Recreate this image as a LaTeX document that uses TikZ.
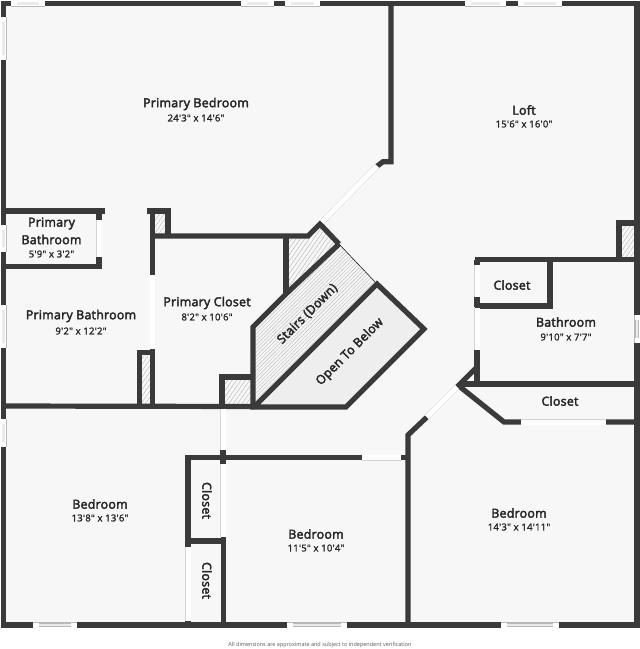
\documentclass[tikz,border=0pt]{standalone}
\usepackage{fontspec}
\usepackage{tikz}
\usetikzlibrary{patterns.meta}
\newfontfamily\roomfont[FakeBold=3, LetterSpace=2]{Open Sans}
\newfontfamily\dimsfont[FakeBold=1.5, LetterSpace=2]{Open Sans}
\newfontfamily\notefont{Open Sans}
\definecolor{wallgray}{HTML}{3A3A3A}
\definecolor{floorgray}{HTML}{F7F7F7}
\definecolor{openfill}{HTML}{EEEEEE}
\definecolor{edgegray}{HTML}{B8B8B8}
\definecolor{hatchgray}{HTML}{BDBDBD}
\tikzset{
  wall/.style={draw=wallgray, line width=5.2pt, line join=miter},
  door/.style={draw=edgegray!60!white, line width=.4pt, double=white, double distance=5pt},
  window/.style={draw=edgegray, line width=.5pt, double=white, double distance=5pt},
  pane/.style={draw=edgegray, line width=.5pt, double=edgegray!30!white, double distance=2.4pt},
  chase/.style={pattern={Lines[angle=55, distance=3.6pt, line width=.5pt]}, pattern color=hatchgray},
  flight/.style={pattern={Lines[angle=45, distance=2.6pt, line width=.45pt]}, pattern color=hatchgray},
  room/.style={font=\roomfont\fontsize{12.4}{14}\selectfont, text=black!85, inner sep=0pt},
  dims/.style={font=\dimsfont\fontsize{9.6}{11}\selectfont, text=black!85, inner sep=0pt},
  note/.style={font=\notefont\fontsize{5.5}{6}\selectfont, text=black!65, inner sep=0pt}
}
\begin{document}
\begin{tikzpicture}[x=1pt, y=-1pt]
\useasboundingbox (0,0) rectangle (640,649);
% Floor
\fill[floorgray] (3.5,3.5) rectangle (637,625);
% Open To Below
\fill[openfill] (377,284) -- (424,329) -- (346,407) -- (256,407) -- cycle;
% Stairs
\path[flight] (253,327) -- (339,244) -- (377,284) -- (256,405) -- (253,407) -- cycle;
\draw[black, line width=.5pt] (339,244) -- (377,284);
% Chases
\path[chase] (286,236) -- (308,236) -- (320,224) -- (339,244) -- (286,293) -- cycle;
\path[chase] (155,214) rectangle (165,233);
\path[chase] (142,356) rectangle (150,404);
\path[chase] (225,380) rectangle (251,404);
\path[chase] (622,226) rectangle (634,257);
% Outer walls
\draw[wall] (3.5,3.5) -- (637,3.5) -- (637,625) -- (3.5,625) -- cycle;
% Primary Bedroom and Loft
\draw[wall] (391,3.5) -- (391,161.7) -- (383,161.7) -- (376,167);
% Primary Bathroom
\draw[wall] (3.5,211) -- (105,211);
\draw[wall] (99,211) -- (99,269);
\draw[wall] (3.5,266.7) -- (101.6,266.7);
% Primary Closet
\draw[wall] (147,211) -- (168,211) -- (168,236);
\draw[wall] (152.5,211) -- (152.5,406);
\draw[wall] (139.5,406) -- (139.5,352.7) -- (152.5,352.7);
\draw[wall] (152.5,236) -- (308,236) -- (320,224) -- (339,244);
\draw[wall] (286,236) -- (286,293);
\draw[wall] (222,406.5) -- (222,377) -- (253,377);
% Stairs walls
\draw[wall] (253,407) -- (253,327) -- (287,293) -- (339,244);
\draw[wall] (256,405) -- (377,284) -- (424,329) -- (346,407) -- (250,407);
\draw[wall] (3.5,406) -- (255,406.5);
% Left Bedroom and Closets
\draw[wall] (223,450) -- (223,464);
\draw[wall] (188,547) -- (188,457.7) -- (408,457.7);
\draw[wall] (188,541) -- (226,541);
\draw[wall] (223.5,537) -- (223.5,625);
\draw[wall] (188,620) -- (188,625);
% Right Bedroom
\draw[wall] (408,625) -- (408,435) -- (427,417);
\draw[wall] (457,387) -- (477,367);
\draw[wall] (477,350) -- (477,386);
\draw[wall] (461,384) -- (637,384);
\draw[wall] (459,386) -- (504,422) -- (637,422);
% Bathroom and Closet
\draw[wall] (475,259.7) -- (637,259.7);
\draw[wall] (477,259.7) -- (477,307);
\draw[wall] (475,306) -- (552.5,306);
\draw[wall] (550,259.7) -- (550,306);
% Chase by the Loft
\draw[wall] (619,262) -- (619,223) -- (637,223);
% Doors
\foreach \xa/\ya/\xb/\yb in {
    377/166/322/222, 99/220/99/257, 152.5/275/152.5/349,
    223/408.5/223/450, 223/464/223/537, 188/547/188/621,
    362/457.7/400.5/457.7, 427/417/457/387, 521/422/606/422,
    477/265/477/297, 477/308/477/350}
  \draw[door] (\xa,\ya) -- (\xb,\yb);
% Windows along top and bottom
\foreach \a/\b/\y in {11/45/3.5, 241/274/3.5, 285/320/3.5, 465/506/3.5, 518/562/3.5,
    33/77/625, 287/347/625, 501/559/625} {
  \draw[window] (\a,\y) -- (\b,\y);
  \draw[pane] (\a+6,\y) -- (\b-6,\y);
}
% Windows along the sides
\foreach \x/\a/\b in {3.5/17/60, 3.5/225/252, 3.5/305/348, 3.5/419/447, 637/315/343} {
  \draw[window] (\x,\a) -- (\x,\b);
  \draw[pane] (\x,\a+5) -- (\x,\b-5);
}
% Rooms
\node[room] (bedprim) at (196,104) {Primary Bedroom};
\node[dims] (bedprimd) at (196,118) {24'3" x 14'6"};
\node[room] (loft) at (524,110) {Loft};
\node[dims] (loftd) at (524,124) {15'6" x 16'0"};
\node[room] (bathsmalla) at (51.5,223.5) {Primary};
\node[room] (bathsmallb) at (51.5,239.5) {Bathroom};
\node[dims] (bathsmalld) at (51.5,254) {5'9" x 3'2"};
\node[room] (bathprim) at (81,316) {Primary Bathroom};
\node[dims] (bathprimd) at (81,331) {9'2" x 12'2"};
\node[room] (closetprim) at (207,303) {Primary Closet};
\node[dims] (closetprimd) at (207,317) {8'2" x 10'6"};
\node[room] (closeta) at (512,285) {Closet};
\node[room] (bath) at (566,322) {Bathroom};
\node[dims] (bathd) at (566,337) {9'10" x 7'7"};
\node[room] (closetb) at (560,401) {Closet};
\node[room] (beda) at (100,504) {Bedroom};
\node[dims] (bedad) at (100,518) {13'8" x 13'6"};
\node[room] (bedb) at (316,534) {Bedroom};
\node[dims] (bedbd) at (316,548) {11'5" x 10'4"};
\node[room] (bedc) at (519,513) {Bedroom};
\node[dims] (bedcd) at (519,527) {14'3" x 14'11"};
\node[room, rotate=-90] (closetc) at (207,500.5) {Closet};
\node[room, rotate=-90] (closetd) at (207,580.5) {Closet};
\node[room, rotate=45] (stairs) at (307.5,314) {Stairs (Down)};
\node[room, rotate=45] (open) at (350,352) {Open To Below};
% Footer
\node[note] (footer) at (320,645.5) {All dimensions are approximate and subject to independent verification};
\end{tikzpicture}
\end{document}
